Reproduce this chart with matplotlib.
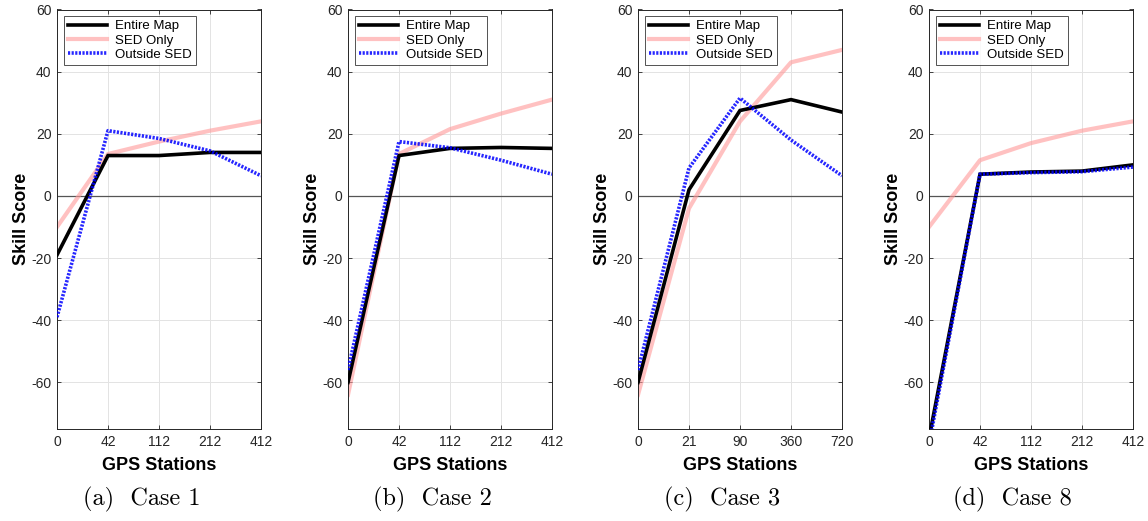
import matplotlib
matplotlib.use("Agg")
import matplotlib.pyplot as plt
import numpy as np

plt.rcParams["font.family"] = ["Liberation Sans", "DejaVu Sans"]
plt.rcParams["axes.unicode_minus"] = False

captions = ["(a)  Case 1", "(b)  Case 2", "(c)  Case 3", "(d)  Case 8"]
xlabels_a = ["0", "42", "112", "212", "412"]
xlabels_b = ["0", "42", "112", "212", "412"]
xlabels_c = ["0", "21", "90", "360", "720"]
xlabels_d = ["0", "42", "112", "212", "412"]

entire_a = [-19, 13, 13, 14, 14]
sed_a = [-10, 13.5, 17.5, 21, 24]
outside_a = [-39, 21, 18.5, 14.5, 6.5]

entire_b = [-60, 13, 15.3, 15.6, 15.3]
sed_b = [-64, 13.5, 21.5, 26.5, 31]
outside_b = [-56, 17.5, 15.5, 11.5, 7]

entire_c = [-60, 2, 27.5, 31, 27]
sed_c = [-64, -4, 24, 43, 47]
outside_c = [-56, 9, 31.5, 18, 6.5]

entire_d = [-78, 7, 7.7, 8, 10]
sed_d = [-10, 11.5, 17, 21, 24]
outside_d = [-80, 7, 7.5, 7.8, 9.3]

panels = [
    (xlabels_a, entire_a, sed_a, outside_a),
    (xlabels_b, entire_b, sed_b, outside_b),
    (xlabels_c, entire_c, sed_c, outside_c),
    (xlabels_d, entire_d, sed_d, outside_d),
]

W, H = 1148, 521
fig = plt.figure(figsize=(W / 100, H / 100), dpi=100)

ax_left = [57, 348, 638, 929]
ax_w = 204
ax_top, ax_bot = 9.5, 429
cap_x = [142, 432, 722, 1012]

for i, (xl, ent, sed, out) in enumerate(panels):
    ax = fig.add_axes([ax_left[i] / W, 1 - ax_bot / H, ax_w / W, (ax_bot - ax_top) / H])
    x = np.arange(len(xl))
    ax.axhline(0, color="#555555", lw=0.9, zorder=1)
    ax.plot(x, ent, color="black", lw=2.6, label="Entire Map", zorder=3, solid_joinstyle="miter")
    ax.plot(x, sed, color="#ff9999", alpha=0.6, lw=3.0, label="SED Only", zorder=2)
    ax.plot(x, out, color="#0000ff", lw=2.6, linestyle=(0, (0.6, 0.4)), label="Outside SED",
            zorder=4, alpha=0.85)
    ax.set_xlim(0, len(xl) - 1)
    ax.set_ylim(-75, 60)
    ax.set_xticks(x)
    ax.set_xticklabels(xl)
    ax.set_yticks([-60, -40, -20, 0, 20, 40, 60])
    ax.grid(True, color="#e3e3e3", lw=0.7)
    ax.set_axisbelow(True)
    ax.tick_params(direction="in", length=3, width=0.6, labelsize=10, colors="#262626",
                   top=True, right=True, pad=4)
    for s in ax.spines.values():
        s.set_linewidth(0.7)
        s.set_color("#262626")
    ax.set_xlabel("GPS Stations", fontsize=13, fontweight="bold", labelpad=6)
    ax.set_ylabel("Skill Score", fontsize=13, fontweight="bold", labelpad=1)
    leg = ax.legend(loc="upper left", fontsize=9.5, frameon=True, fancybox=False,
                    edgecolor="#262626", handlelength=3.0, borderpad=0.3, labelspacing=0.15,
                    handletextpad=0.6, borderaxespad=0.5)
    leg.get_frame().set_linewidth(0.7)
    fig.text(cap_x[i] / W, 1 - 499 / H, captions[i], fontsize=17.5, family="cmr10",
             ha="center", va="center")

fig.savefig("out.png", dpi=100)
